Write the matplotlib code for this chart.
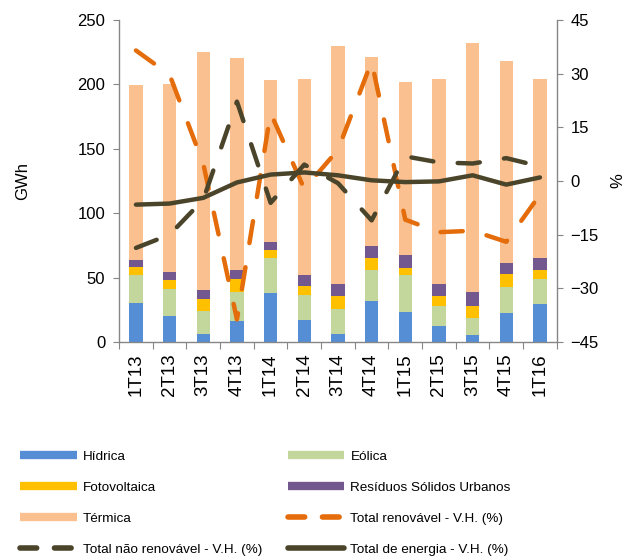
import numpy as np
import matplotlib.pyplot as plt
from matplotlib.lines import Line2D

plt.rcParams['font.family'] = ['Liberation Sans', 'DejaVu Sans']

quarters = ['1T13', '2T13', '3T13', '4T13', '1T14', '2T14', '3T14',
            '4T14', '1T15', '2T15', '3T15', '4T15', '1T16']

# GWh
hidrica = [30.0, 20.2, 6.5, 16.0, 38.2, 16.8, 6.2, 32.0, 23.3, 12.7, 5.2, 22.5, 29.5]
eolica = [22.2, 20.9, 17.3, 22.8, 27.4, 19.6, 19.4, 23.6, 28.4, 15.2, 13.1, 20.1, 19.6]
fotovoltaica = [5.7, 6.7, 9.3, 10.3, 6.2, 7.3, 10.1, 9.3, 5.9, 7.5, 9.9, 9.9, 6.5]
rsu = [5.4, 6.2, 7.0, 6.5, 5.7, 8.5, 9.3, 9.5, 9.6, 9.6, 10.3, 8.7, 9.5]
termica = [136.4, 146.3, 185.2, 165.1, 125.9, 151.9, 185.0, 147.0, 134.4, 159.4, 193.8, 157.1, 139.0]

# variação homóloga (%)
vh_renovavel = [36.5, 29.7, 4.8, -38.7, 19.0, -2.2, 8.7, 33.4, -10.8, -14.3, -13.9, -17.0, -3.8]
vh_nao_renovavel = [-18.7, -15.0, -5.2, 22.2, -6.1, 4.6, -0.6, -11.0, 6.9, 5.2, 4.9, 6.4, 4.1]
vh_total = [-6.6, -6.3, -4.7, -0.4, 1.8, 2.4, 1.6, 0.2, -0.3, -0.1, 1.6, -1.0, 1.0]

c_hid = '#558ED5'
c_eol = '#C3D69B'
c_fot = '#FFC000'
c_rsu = '#72588F'
c_ter = '#FAC090'
c_ren = '#E46C0A'
c_nren = '#4A452A'
grey = '#868686'

fig = plt.figure(figsize=(6.27, 5.57), dpi=100, facecolor='white')
ax = fig.add_axes([0.190, 0.386, 0.698, 0.578])
ax2 = ax.twinx()

x = np.arange(len(quarters))
w = 0.4
bottom = np.zeros(len(x))
for vals, col in [(hidrica, c_hid), (eolica, c_eol), (fotovoltaica, c_fot),
                  (rsu, c_rsu), (termica, c_ter)]:
    ax.bar(x, vals, w, bottom=bottom, color=col, zorder=2)
    bottom += np.array(vals)

ax.set_xlim(-0.5, len(x) - 0.5)
ax.set_ylim(0, 250)
ax.set_yticks(range(0, 251, 50))
ax.set_xticks(np.arange(-0.5, len(x), 1.0))
ax.set_xticklabels([])
ax.set_xticks(x, minor=True)
ax.set_xticklabels(quarters, minor=True, rotation=90, fontsize=13.5)
ax.tick_params(axis='x', which='major', length=5, color=grey, direction='out')
ax.tick_params(axis='x', which='minor', length=0, pad=8)
ax.tick_params(axis='y', labelsize=12, length=4, color=grey, pad=6)
ax.set_ylabel('GWh', fontsize=12, labelpad=34)

ax2.set_ylim(-45, 45)
ax2.set_yticks(range(-45, 46, 15))
ax2.tick_params(axis='y', labelsize=12, length=4, color=grey, pad=6)
ax2.set_ylabel('%', fontsize=12, labelpad=8)

kw = dict(linewidth=3.2, solid_capstyle='round', dash_capstyle='round')
ax2.plot(x, vh_renovavel, color=c_ren, dashes=(5, 5.5), **kw)
ax2.plot(x, vh_nao_renovavel, color=c_nren, dashes=(5, 5.5), **kw)
ax2.plot(x, vh_total, color=c_nren, **kw)

for a in (ax, ax2):
    a.spines['top'].set_visible(False)
    for s in ('left', 'right', 'bottom'):
        a.spines[s].set_color(grey)
        a.spines[s].set_linewidth(1.0)
ax.spines['right'].set_visible(False)
ax2.spines['left'].set_visible(False)
ax2.spines['bottom'].set_visible(False)

def bar_handle(col):
    return Line2D([0], [0], color=col, linewidth=6, solid_capstyle='butt')

def line_handle(col, dashed):
    if dashed:
        return Line2D([0], [0], color=col, linewidth=4, dashes=(3.0, 3.2),
                      dash_capstyle='round')
    return Line2D([0], [0], color=col, linewidth=4, solid_capstyle='round')

col1 = [(bar_handle(c_hid), 'Hídrica'),
        (bar_handle(c_fot), 'Fotovoltaica'),
        (bar_handle(c_ter), 'Térmica'),
        (line_handle(c_nren, True), 'Total não renovável - V.H. (%)')]
col2 = [(bar_handle(c_eol), 'Eólica'),
        (bar_handle(c_rsu), 'Resíduos Sólidos Urbanos'),
        (line_handle(c_ren, True), 'Total renovável - V.H. (%)'),
        (line_handle(c_nren, False), 'Total de energia - V.H. (%)')]

for items, xpos in [(col1, 0.032), (col2, 0.459)]:
    fig.legend([h for h, _ in items], [t for _, t in items],
               loc='upper left', bbox_to_anchor=(xpos, 0.191),
               frameon=False, fontsize=9.7, handlelength=4.2,
               handletextpad=0.45, labelspacing=1.38, borderpad=0,
               borderaxespad=0)

fig.savefig('out.png', dpi=100, facecolor='white')
